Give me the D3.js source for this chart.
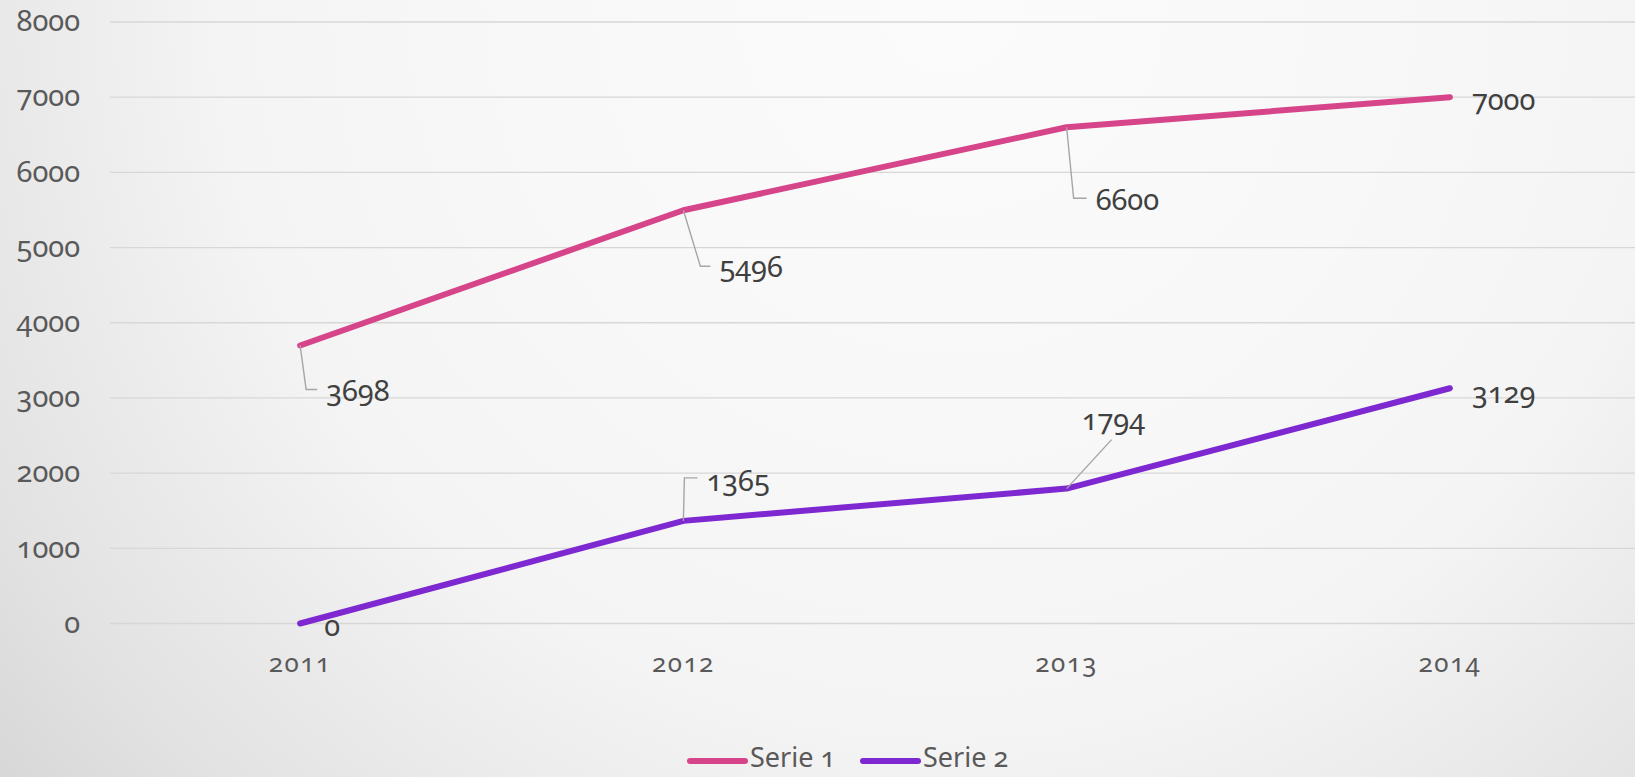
<!DOCTYPE html>
<html><head><meta charset="utf-8">
<script src="https://cdn.jsdelivr.net/npm/d3@7"></script>
<style>
html,body{margin:0;padding:0;}
body{width:1635px;height:777px;overflow:hidden;}
text{font-family:"Noto Sans",sans-serif;font-feature-settings:"onum" 1;font-variant-numeric:oldstyle-nums;}
</style></head><body>
<svg id="c" width="1635" height="777"></svg>
<script>
const categories = ["2011","2012","2013","2014"];
const serie1 = [3698, 5496, 6600, 7000];
const serie2 = [0, 1365, 1794, 3129];
const seriesNames = ["Serie 1","Serie 2"];
const yTicks = [0,1000,2000,3000,4000,5000,6000,7000,8000];

const W=1635,H=777;
const svg=d3.select("#c");
const defs=svg.append("defs");
const g=defs.append("radialGradient").attr("id","bg").attr("gradientUnits","userSpaceOnUse")
  .attr("cx",950).attr("cy",0).attr("r",1220);
[[0,"#fbfbfb"],[0.35,"#f8f8f8"],[0.6,"#f4f4f4"],[0.74,"#ebebeb"],[0.88,"#e2e2e2"],[1,"#d8d8d8"]]
  .forEach(s=>g.append("stop").attr("offset",s[0]).attr("stop-color",s[1]));
svg.append("rect").attr("width",W).attr("height",H).attr("fill","url(#bg)");

const x=d3.scaleBand().domain(categories).range([108.5,1641.5]);
const y=d3.scaleLinear().domain([0,8000]).range([623.5,22]);
const cx=c=>x(c)+x.bandwidth()/2;

// grid
svg.append("g").selectAll("line").data(yTicks).join("line")
  .attr("x1",110).attr("x2",W).attr("y1",d=>y(d)).attr("y2",d=>y(d))
  .attr("stroke","#d7d7d7").attr("stroke-width",1.3);

// y axis
const ya=svg.append("g").attr("transform","translate(110,0)")
  .call(d3.axisLeft(y).tickValues(yTicks).tickSize(0).tickPadding(30).tickFormat(d3.format("d")));
ya.select(".domain").remove();
ya.selectAll("text").attr("fill","#595959").style("font-size","29px").attr("dy","0.3em");

// x axis
const xa=svg.append("g").attr("transform","translate(0,623.5)")
  .call(d3.axisBottom(x).tickSize(0).tickPadding(30));
xa.select(".domain").remove();
xa.selectAll("text").attr("fill","#595959").style("font-size","26px").style("letter-spacing","1.5px");

const colors=["#d6458a","#7d28d0"];
const allSeries=[serie1,serie2];
const line=d3.line().x((d,i)=>cx(categories[i])).y(d=>y(d));
allSeries.forEach((s,k)=>{
  svg.append("path").datum(s).attr("d",line).attr("fill","none")
    .attr("stroke",colors[k]).attr("stroke-width",6).attr("stroke-linecap","round").attr("stroke-linejoin","round");
});

// data label placement (style offsets)
const labelOff=[
  [{dx:26,dy:47,elbow:[6,44]},{dx:36,dy:58,elbow:[17,56]},{dx:29,dy:74,elbow:[7,71]},{dx:22,dy:4}],
  [{dx:24,dy:4},{dx:23,dy:-39,elbow:[1,-43]},{dx:15,dy:-67,diag:[45,-49]},{dx:22,dy:6}]
];
const fmt=d3.format("d");
allSeries.forEach((s,k)=>{
  s.forEach((v,i)=>{
    const px=cx(categories[i]), py=y(v), o=labelOff[k][i];
    const tx=px+o.dx, ty=py+o.dy;
    if(o.elbow){
      const ex=px+o.elbow[0], ey=py+o.elbow[1];
      svg.append("polyline").attr("points",`${px},${py} ${ex},${ey} ${tx-9},${ey}`)
        .attr("fill","none").attr("stroke","#a6a6a6").attr("stroke-width",1.4);
    } else if(o.diag){
      svg.append("line").attr("x1",px).attr("y1",py).attr("x2",px+o.diag[0]).attr("y2",py+o.diag[1])
        .attr("stroke","#a6a6a6").attr("stroke-width",1.4);
    }
    svg.append("text").attr("x",tx).attr("y",ty).attr("dy","0.3em")
      .attr("fill","#404040").style("font-size","29px").text(fmt(v));
  });
});

// legend
const leg=[{x:690,name:seriesNames[0],c:colors[0]},{x:863,name:seriesNames[1],c:colors[1]}];
leg.forEach(l=>{
  svg.append("line").attr("x1",l.x).attr("x2",l.x+55).attr("y1",761).attr("y2",761)
    .attr("stroke",l.c).attr("stroke-width",6).attr("stroke-linecap","round");
  svg.append("text").attr("x",l.x+60).attr("y",758).attr("dy","0.35em")
    .attr("fill","#595959").style("font-size","27px").text(l.name);
});
</script></body></html>
